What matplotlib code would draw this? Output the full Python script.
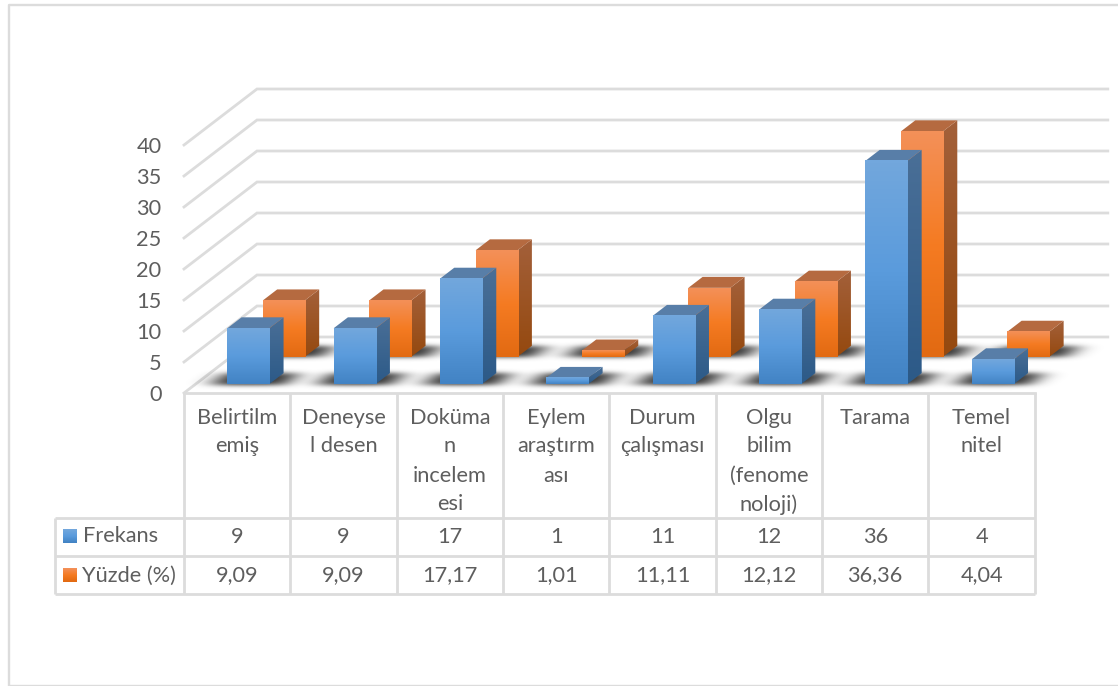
import numpy as np
import matplotlib
matplotlib.use("Agg")
import matplotlib.pyplot as plt
from matplotlib.colors import LinearSegmentedColormap
from matplotlib.patches import Polygon
from matplotlib.path import Path

categories = ["Belirtilm\nemiş", "Deneyse\nl desen", "Doküma\nn\nincelem\nesi", "Eylem\naraştırm\nası",
              "Durum\nçalışması", "Olgu\nbilim\n(fenome\nnoloji)", "Tarama", "Temel\nnitel"]
frekans = [9, 9, 17, 1, 11, 12, 36, 4]
yuzde = [9.09, 9.09, 17.17, 1.01, 11.11, 12.12, 36.36, 4.04]
frekans_name = "Frekans"
yuzde_name = "Yüzde (%)"
y_ticks = [0, 5, 10, 15, 20, 25, 30, 35, 40]

W, H = 1118, 686
GRID = "#dcdcdc"
TXT = "#5e5e5e"
FONT = "Lato"
FS = 15.7

# pixel geometry of the value/category scales
X0, Y0, PX_CAT, PX_VAL = 184.0, 393.0, 106.35, 6.2
DX_PX, DY_PX = 73.0, 56.0
DX, DV = DX_PX / PX_CAT, DY_PX / PX_VAL
BAR_CENTER = 0.495
LW = 2.0


def proj(x, v, d):
    return (x + d * DX, v + d * DV)


fig = plt.figure(figsize=(W / 100, H / 100), dpi=100, facecolor="white")
ax = fig.add_axes([0, 0, 1, 1])
ax.set_axis_off()
xlim = (-X0 / PX_CAT, (W - X0) / PX_CAT)
ylim = ((Y0 - H) / PX_VAL, Y0 / PX_VAL)

n = len(categories)
# walls / gridlines
for t in y_ticks:
    a, b, c = proj(0, t, 0), proj(0, t, 1), proj(n, t, 1)
    ax.plot([a[0], b[0], c[0]], [a[1], b[1], c[1]], color=GRID, lw=LW, zorder=1, solid_joinstyle="miter")
ax.plot([0, n], [0, 0], color=GRID, lw=LW, zorder=1)

BAR_W = 0.395
D_LEN = 0.195
series = [
    (yuzde, 0.648, ["#f39058", "#f57b22", "#e26a12"], ["#a3603a", "#95490f"], "#b56a40"),
    (frekans, 0.160, ["#72a7dd", "#5a9bdc", "#4283c4"], ["#4a6f97", "#2c5a88"], "#587ea8"),
]

# soft shadows on the floor, computed on a pixel grid
xx, yy = np.meshgrid(np.arange(W) + .5, np.arange(H) + .5)
pts = np.column_stack([xx.ravel(), yy.ravel()])
mask = np.zeros((H, W))


def to_px(p):
    return (X0 + p[0] * PX_CAT, Y0 - p[1] * PX_VAL)


for vals, d0, *_ in series:
    for i in range(len(vals)):
        xc = i + BAR_CENTER
        hw = BAR_W / 2 + 0.15
        a, b = d0 - 0.012, d0 + 0.2
        quad = [to_px(proj(xc - hw, 0, a)), to_px(proj(xc + hw, 0, a)),
                to_px(proj(xc + hw, 0, b)), to_px(proj(xc - hw, 0, b))]
        mask[Path(quad).contains_points(pts).reshape(H, W)] = 1


def kernel(s):
    r = int(3 * s)
    k = np.exp(-0.5 * (np.arange(-r, r + 1) / s) ** 2)
    return k / k.sum()


blur = np.apply_along_axis(lambda r: np.convolve(r, kernel(11), mode="same"), 1, mask)
blur = np.apply_along_axis(lambda c: np.convolve(c, kernel(2.2), mode="same"), 0, blur)
rgba = np.zeros((H, W, 4))
rgba[..., :3] = 0.15
rgba[..., 3] = np.clip(blur * 0.95, 0, 0.85)
ax.imshow(rgba, extent=(*xlim, *ylim), origin="upper", aspect="auto", zorder=2, interpolation="bilinear")

for vals, d0, front, side, top in series:
    cm_f = LinearSegmentedColormap.from_list("f", front)
    cm_s = LinearSegmentedColormap.from_list("s", side)
    grad = np.linspace(0, 1, 64)[:, None]
    for i, v in enumerate(vals):
        xc = i + BAR_CENTER
        x0, x1 = xc - BAR_W / 2, xc + BAR_W / 2
        d1 = d0 + D_LEN
        # side
        sq = [proj(x1, 0, d0), proj(x1, v, d0), proj(x1, v, d1), proj(x1, 0, d1)]
        poly = Polygon(sq, closed=True, fc="none", ec="none", zorder=3)
        ax.add_patch(poly)
        im = ax.imshow(grad, cmap=cm_s, aspect="auto", origin="upper", zorder=3, interpolation="bilinear",
                       extent=(sq[0][0], sq[2][0], sq[0][1], sq[2][1]))
        im.set_clip_path(poly)
        # top
        ax.add_patch(Polygon([proj(x0, v, d0), proj(x1, v, d0), proj(x1, v, d1), proj(x0, v, d1)],
                             closed=True, fc=top, ec="none", zorder=3))
        # front
        p0, p1 = proj(x0, 0, d0), proj(x1, v, d0)
        ax.imshow(grad, cmap=cm_f, aspect="auto", origin="upper", zorder=3, interpolation="bilinear",
                  extent=(p0[0], p1[0], p0[1], p1[1]))
ax.set_xlim(*xlim)
ax.set_ylim(*ylim)

# value-axis labels
for t in y_ticks:
    ax.text(-22.5 / PX_CAT, t - 2 / PX_VAL, str(t), ha="right", va="center", color=TXT,
            fontsize=FS, family=FONT, zorder=6)

# chrome and data table in pixel coordinates
ui = fig.add_axes([0, 0, 1, 1], facecolor="none")
ui.set_axis_off()
ui.set_xlim(0, W)
ui.set_ylim(H, 0)

ui.plot([9, 9, W], [H, 5, 5], color=GRID, lw=1.7)
ui.plot([9, W], [685, 685], color=GRID, lw=1.0)

col_x = [X0 + i * PX_CAT for i in range(n + 1)]
R0, R1, R2 = 518, 556, 594
for x in col_x:
    ui.plot([x, x], [Y0, R2], color=GRID, lw=LW, solid_capstyle="butt")
for y in (R0, R1, R2):
    ui.plot([55, col_x[-1]], [y, y], color=GRID, lw=LW, solid_capstyle="butt")
ui.plot([55, 55], [R0, R2], color=GRID, lw=LW, solid_capstyle="butt")


def fmt(v):
    return f"{v:g}".replace(".", ",")


for i, label in enumerate(categories):
    xc = (col_x[i] + col_x[i + 1]) / 2
    for j, line in enumerate(label.split("\n")):
        ui.text(xc, 417.5 + 29 * j, line, ha="center", va="center", color=TXT, fontsize=FS, family=FONT)
    ui.text(xc, 537, fmt(frekans[i]), ha="center", va="center", color=TXT, fontsize=FS, family=FONT)
    ui.text(xc, 575.5, fmt(yuzde[i]), ha="center", va="center", color=TXT, fontsize=FS, family=FONT)

for yc, name, colors, tx in ((536, frekans_name, series[1][2], 83), (575, yuzde_name, series[0][2], 82)):
    cm = LinearSegmentedColormap.from_list("k", colors)
    ui.imshow(np.linspace(0, 1, 16)[:, None], cmap=cm, aspect="auto", origin="upper",
              extent=(63, 77, yc + 7, yc - 7), zorder=3)
    ui.text(tx, yc + 0.5, name, ha="left", va="center", color=TXT, fontsize=FS, family=FONT)
ui.set_xlim(0, W)
ui.set_ylim(H, 0)

fig.savefig("out.png", dpi=100)
